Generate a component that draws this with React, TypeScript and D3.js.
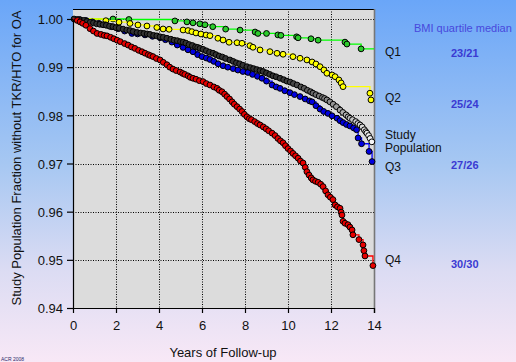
import React, { useEffect, useRef } from 'react';
import * as d3 from 'd3';

// Kaplan-Meier style curves (years, fraction without TKR/HTO)
const q1Years = [1.86, 2.6, 4.74, 5.3, 5.58, 5.9, 6.14, 6.5, 7.1, 7.77, 8.47, 8.6, 9.0, 9.53, 9.67, 10.4, 10.47, 11.07, 11.4, 12.65, 12.74, 13.4];
const q1Surv = [1.0, 0.9999, 0.9996, 0.9994, 0.9992, 0.999, 0.9988, 0.9984, 0.9979, 0.9977, 0.9973, 0.997, 0.997, 0.9967, 0.9966, 0.9963, 0.9961, 0.9959, 0.9956, 0.9952, 0.9948, 0.9938];

const q2Years = [1.53, 2.14, 2.65, 3.02, 3.44, 3.9, 4.19, 4.47, 5.12, 5.35, 5.53, 5.72, 5.95, 6.19, 6.37, 6.74, 6.98, 7.26, 7.63, 7.86, 8.23, 8.37, 8.7, 9.16, 9.49, 9.77, 10.23, 10.56, 10.88, 11.12, 11.3, 11.49, 11.67, 11.81, 12.05, 12.19, 12.37, 12.47, 12.56, 13.81, 13.86];
const q2Surv = [0.99965, 0.99934, 0.99907, 0.99876, 0.99855, 0.99824, 0.99793, 0.99786, 0.99772, 0.99761, 0.99737, 0.9971, 0.99689, 0.99668, 0.99654, 0.996, 0.99564, 0.99517, 0.99508, 0.99496, 0.99446, 0.99413, 0.99357, 0.99322, 0.99288, 0.99268, 0.99218, 0.99185, 0.9915, 0.99108, 0.99066, 0.9901, 0.98942, 0.98873, 0.98838, 0.98803, 0.98734, 0.98672, 0.98595, 0.98459, 0.9832];

const q3Years = [0.3, 0.6, 0.9, 1.2, 1.5, 1.8, 2.1, 2.4, 2.74, 3.0, 3.35, 3.7, 4.05, 4.3, 4.6, 4.85, 5.12, 5.35, 5.58, 5.8, 6.0, 6.2, 6.37, 6.55, 6.75, 6.98, 7.2, 7.45, 7.67, 7.9, 8.14, 8.35, 8.58, 8.79, 9.0, 9.26, 9.45, 9.63, 9.85, 10.09, 10.3, 10.56, 10.8, 11.0, 11.12, 11.3, 11.49, 11.66, 11.86, 12.05, 12.28, 12.42, 12.56, 12.72, 12.88, 13.05, 13.19, 13.26, 13.42, 13.77, 13.91];
const q3Surv = [0.9999, 0.9997, 0.9994, 0.9991, 0.9988, 0.9984, 0.998, 0.9975, 0.997, 0.9969, 0.9967, 0.9964, 0.9961, 0.9957, 0.9952, 0.9946, 0.9941, 0.9936, 0.9932, 0.9926, 0.9922, 0.9919, 0.9916, 0.9912, 0.9907, 0.9903, 0.99, 0.9897, 0.9894, 0.9891, 0.9889, 0.9885, 0.9881, 0.9877, 0.9871, 0.9863, 0.9859, 0.9856, 0.9851, 0.9847, 0.9843, 0.9839, 0.9834, 0.983, 0.9828, 0.982, 0.9813, 0.9808, 0.9804, 0.9799, 0.9794, 0.9789, 0.9785, 0.9781, 0.9778, 0.9774, 0.977, 0.9753, 0.9741, 0.9725, 0.9704];

const studyYears = [0.05, 0.2, 0.35, 0.5, 0.65, 0.8, 0.95, 1.1, 1.25, 1.4, 1.55, 1.7, 1.86, 2.0, 2.15, 2.33, 2.5, 2.65, 2.8, 2.98, 3.15, 3.3, 3.45, 3.58, 3.75, 3.9, 4.05, 4.2, 4.37, 4.55, 4.7, 4.85, 5.0, 5.12, 5.25, 5.4, 5.55, 5.7, 5.8, 5.91, 6.05, 6.2, 6.35, 6.51, 6.65, 6.8, 6.95, 7.1, 7.3, 7.45, 7.6, 7.75, 7.9, 8.09, 8.25, 8.4, 8.55, 8.7, 8.84, 9.0, 9.15, 9.3, 9.45, 9.63, 9.8, 9.95, 10.1, 10.25, 10.42, 10.6, 10.75, 10.9, 11.05, 11.16, 11.3, 11.45, 11.6, 11.7, 11.81, 11.95, 12.1, 12.25, 12.42, 12.55, 12.7, 12.8, 12.88, 13.0, 13.15, 13.25, 13.35, 13.45, 13.55, 13.62, 13.67, 13.75, 13.82, 13.9];
const studySurv = [1.0, 0.9999, 0.9998, 0.9997, 0.9995, 0.9993, 0.9992, 0.999, 0.9989, 0.9988, 0.9987, 0.9985, 0.9984, 0.9982, 0.9981, 0.9979, 0.9977, 0.9976, 0.9974, 0.9972, 0.9971, 0.997, 0.9969, 0.9968, 0.9966, 0.9965, 0.9963, 0.9962, 0.996, 0.9958, 0.9956, 0.9955, 0.9953, 0.9952, 0.995, 0.9947, 0.9945, 0.9942, 0.9941, 0.9939, 0.9937, 0.9934, 0.9931, 0.9929, 0.9926, 0.9923, 0.9921, 0.9918, 0.9915, 0.9912, 0.9909, 0.9907, 0.9904, 0.9901, 0.9899, 0.9897, 0.9895, 0.9893, 0.9891, 0.9888, 0.9885, 0.9882, 0.988, 0.9877, 0.9874, 0.9871, 0.9869, 0.9866, 0.9863, 0.9859, 0.9856, 0.9852, 0.9849, 0.9846, 0.9843, 0.984, 0.9837, 0.9835, 0.9832, 0.9828, 0.9823, 0.9818, 0.9811, 0.9806, 0.9801, 0.9797, 0.9794, 0.9791, 0.9787, 0.9783, 0.978, 0.9776, 0.977, 0.9766, 0.9763, 0.9758, 0.9752, 0.9745];

const q4Years = [0.2, 0.33, 0.45, 0.6, 0.79, 0.95, 1.12, 1.3, 1.45, 1.58, 1.75, 1.9, 2.05, 2.2, 2.4, 2.56, 2.72, 2.88, 3.05, 3.21, 3.35, 3.5, 3.6, 3.72, 3.88, 4.05, 4.2, 4.37, 4.5, 4.65, 4.8, 4.98, 5.1, 5.2, 5.35, 5.45, 5.58, 5.72, 5.88, 6.05, 6.2, 6.37, 6.55, 6.7, 6.8, 6.93, 7.05, 7.16, 7.28, 7.4, 7.5, 7.63, 7.75, 7.86, 7.97, 8.09, 8.2, 8.3, 8.45, 8.58, 8.7, 8.85, 8.98, 9.1, 9.26, 9.4, 9.53, 9.65, 9.77, 9.88, 10.0, 10.12, 10.23, 10.35, 10.47, 10.58, 10.7, 10.8, 10.88, 10.98, 11.08, 11.16, 11.28, 11.4, 11.52, 11.63, 11.75, 11.86, 11.97, 12.09, 12.19, 12.3, 12.42, 12.47, 12.51, 12.56, 12.65, 12.79, 12.88, 12.98, 13.02, 13.3, 13.49, 13.53, 13.58, 13.95];
const q4Surv = [0.9997, 0.9994, 0.9991, 0.9987, 0.998, 0.9975, 0.997, 0.9968, 0.9966, 0.9965, 0.9962, 0.9959, 0.9956, 0.9953, 0.9949, 0.9946, 0.9942, 0.9939, 0.9935, 0.9932, 0.9929, 0.9926, 0.9924, 0.9922, 0.9918, 0.9915, 0.991, 0.9905, 0.99, 0.9896, 0.9893, 0.989, 0.9887, 0.9885, 0.9882, 0.9879, 0.9877, 0.9875, 0.9872, 0.987, 0.9866, 0.9863, 0.9859, 0.9856, 0.9852, 0.9849, 0.9844, 0.9839, 0.9834, 0.9828, 0.9823, 0.9818, 0.9813, 0.9808, 0.9802, 0.9797, 0.9793, 0.9791, 0.9787, 0.9783, 0.978, 0.9776, 0.9772, 0.9768, 0.9763, 0.9758, 0.9752, 0.9747, 0.9743, 0.9737, 0.9731, 0.9726, 0.9721, 0.9716, 0.9711, 0.9705, 0.9701, 0.9692, 0.9683, 0.9676, 0.967, 0.9666, 0.9663, 0.9661, 0.9657, 0.9652, 0.9643, 0.9635, 0.963, 0.9625, 0.9614, 0.961, 0.9607, 0.9599, 0.9593, 0.958, 0.9576, 0.9573, 0.9568, 0.9562, 0.9552, 0.9542, 0.9531, 0.9519, 0.9508, 0.9488];

const xTicks = [0, 2, 4, 6, 8, 10, 12, 14];
const yTicks = [0.94, 0.95, 0.96, 0.97, 0.98, 0.99, 1.0];

const rightLabels = [
  { lines: ['Q1'], y: 56 },
  { lines: ['Q2'], y: 102 },
  { lines: ['Study', 'Population'], y: 139 },
  { lines: ['Q3'], y: 171 },
  { lines: ['Q4'], y: 264 },
];
const bmiMedians = [
  { text: '23/21', y: 57 },
  { text: '25/24', y: 107.5 },
  { text: '27/26', y: 169 },
  { text: '30/30', y: 268 },
];

export default function App() {
  const svgRef = useRef<SVGSVGElement>(null);

  useEffect(() => {
    const W = 516, H = 362;
    const svg = d3.select(svgRef.current);
    svg.selectAll('*').remove();
    svg.attr('width', W).attr('height', H);

    const defs = svg.append('defs');
    const bg = defs.append('linearGradient').attr('id', 'bg').attr('x1', 0).attr('y1', 0).attr('x2', 0).attr('y2', 1);
    bg.append('stop').attr('offset', '0%').attr('stop-color', '#6aa6f8');
    bg.append('stop').attr('offset', '45%').attr('stop-color', '#a6c7f2');
    bg.append('stop').attr('offset', '75%').attr('stop-color', '#dcdcf3');
    bg.append('stop').attr('offset', '100%').attr('stop-color', '#f8e8f6');
    svg.append('rect').attr('width', W).attr('height', H).attr('fill', 'url(#bg)');

    const x = d3.scaleLinear().domain([0, 14]).range([73, 374]);
    const y = d3.scaleLinear().domain([0.94, 1.0]).range([308, 19]);
    const plotTop = 9;

    svg.append('rect')
      .attr('x', x(0)).attr('y', plotTop)
      .attr('width', x(14) - x(0)).attr('height', y(0.94) - plotTop)
      .attr('fill', '#dcdcdc');

    // dotted grid
    const grid = svg.append('g').attr('stroke', '#000').attr('stroke-width', 1).attr('stroke-dasharray', '1,1.5');
    grid.selectAll('.gx').data(xTicks.slice(1, -1)).enter().append('line')
      .attr('x1', d => x(d) + 0.5).attr('x2', d => x(d) + 0.5)
      .attr('y1', plotTop).attr('y2', y(0.94));
    grid.selectAll('.gy').data(yTicks.slice(1)).enter().append('line')
      .attr('x1', x(0)).attr('x2', x(14))
      .attr('y1', d => Math.round(y(d)) + 0.5).attr('y2', d => Math.round(y(d)) + 0.5);

    // frame
    svg.append('line').attr('x1', x(0)).attr('x2', x(14)).attr('y1', plotTop + 0.5).attr('y2', plotTop + 0.5)
      .attr('stroke', '#000').attr('stroke-width', 1);
    svg.append('line').attr('x1', x(14) + 0.5).attr('x2', x(14) + 0.5).attr('y1', plotTop).attr('y2', y(0.94) + 5)
      .attr('stroke', '#777').attr('stroke-width', 1.6);

    const series = [
      { years: q1Years, surv: q1Surv, line: '#00ff00', fill: '#2ccc2c' },
      { years: q2Years, surv: q2Surv, line: '#ffff00', fill: '#ffff00' },
      { years: q3Years, surv: q3Surv, line: '#0000ff', fill: '#0000e0' },
      { years: studyYears, surv: studySurv, line: '#000000', fill: 'study' },
      { years: q4Years, surv: q4Surv, line: '#ff0000', fill: '#e80000' },
    ];

    const stepLine = d3.line<[number, number]>()
      .x(d => x(d[0])).y(d => y(d[1]))
      .curve(d3.curveStepAfter);
    const studyFill = d3.interpolateRgb('#333333', '#f6f6f6');

    const plot = svg.append('g');
    series.forEach(s => {
      const pts: [number, number][] = s.years.map((yr, i) => [yr, s.surv[i]]);
      const path: [number, number][] = [[0, 1.0], ...pts, [14, pts[pts.length - 1][1]]];
      plot.append('path').attr('d', stepLine(path))
        .attr('fill', 'none').attr('stroke', s.line).attr('stroke-width', 1.3);
      plot.append('g').selectAll('circle').data(pts).enter().append('circle')
        .attr('cx', d => x(d[0])).attr('cy', d => y(d[1]))
        .attr('r', 2.9)
        .attr('fill', d => {
          if (s.fill !== 'study') return s.fill;
          const t = Math.max(0, Math.min(1, (d[0] - 9.5) / 4.4));
          return studyFill(Math.pow(t, 1.3));
        })
        .attr('stroke', '#000').attr('stroke-width', 1);
    });

    // axes
    const yAxis = svg.append('g').attr('transform', `translate(${x(0)},0)`)
      .call(d3.axisLeft(y).tickValues(yTicks).tickFormat(d3.format('.2f')).tickSize(6).tickSizeOuter(0));
    const xAxis = svg.append('g').attr('transform', `translate(0,${y(0.94)})`)
      .call(d3.axisBottom(x).tickValues(xTicks).tickFormat(d3.format('d')).tickSize(5).tickSizeOuter(0));
    [yAxis, xAxis].forEach(a => {
      a.select('.domain').attr('stroke', '#000').attr('stroke-width', 1.2);
      a.selectAll('.tick line').attr('stroke', '#000').attr('stroke-width', 1.2);
      a.selectAll('text').attr('font-family', 'Arial, "Liberation Sans", sans-serif')
        .attr('font-size', 13).attr('fill', '#111');
    });
    yAxis.selectAll('text').attr('x', -10).attr('dy', '0.36em');
    xAxis.selectAll('text').attr('y', 13).attr('dy', '0.71em');

    const font = 'Arial, "Liberation Sans", sans-serif';
    svg.append('text')
      .attr('transform', 'translate(21,158) rotate(-90)')
      .attr('text-anchor', 'middle')
      .attr('font-family', font).attr('font-size', 13).attr('fill', '#111')
      .text('Study Population Fraction without TKR/HTO for OA');
    svg.append('text')
      .attr('x', 223).attr('y', 357)
      .attr('text-anchor', 'middle')
      .attr('font-family', font).attr('font-size', 13).attr('fill', '#111')
      .text('Years of Follow-up');

    rightLabels.forEach(l => {
      const t = svg.append('text').attr('x', 385).attr('y', l.y)
        .attr('font-family', font).attr('font-size', 12).attr('fill', '#111');
      l.lines.forEach((ln, i) => {
        t.append('tspan').attr('x', 385).attr('dy', i === 0 ? 0 : 13).text(ln);
      });
    });

    svg.append('text').attr('x', 414).attr('y', 32)
      .attr('font-family', font).attr('font-size', 11).attr('fill', '#4848dc')
      .text('BMI quartile median');
    svg.selectAll('.bmi').data(bmiMedians).enter().append('text')
      .attr('x', 451).attr('y', d => d.y)
      .attr('font-family', font).attr('font-size', 11).attr('font-weight', 'bold').attr('fill', '#3a3ad2')
      .text(d => d.text);

    svg.append('text').attr('x', 1).attr('y', 361)
      .attr('font-family', font).attr('font-size', 5).attr('fill', '#2a2a6a')
      .text('ACR 2008');
  }, []);

  return (
    <div style={{ position: 'absolute', left: 0, top: 0, width: 516, height: 362 }}>
      <svg ref={svgRef} style={{ display: 'block' }}></svg>
    </div>
  );
}
